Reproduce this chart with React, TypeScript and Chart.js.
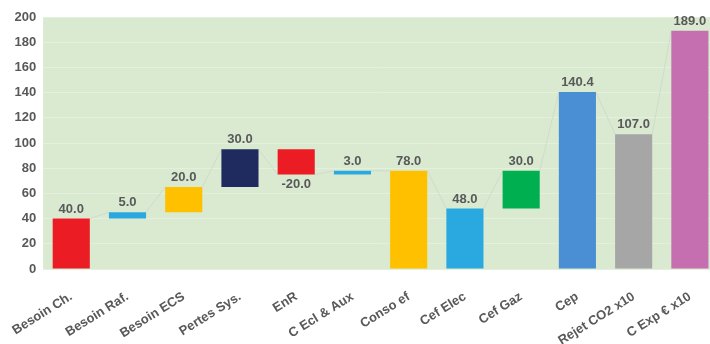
import React, { useEffect, useRef } from "react";
import { Chart, registerables } from "chart.js";

Chart.register(...registerables);

const categories = [
  "Besoin Ch.",
  "Besoin Raf.",
  "Besoin ECS",
  "Pertes Sys.",
  "EnR",
  "C Ecl & Aux",
  "Conso ef",
  "Cef Elec",
  "Cef Gaz",
  "Cep",
  "Rejet CO2 x10",
  "C Exp € x10",
];
const starts = [0, 40, 45, 65, 95, 75, 0, 0, 48, 0, 0, 0];
const values = [40, 5, 20, 30, -20, 3, 78, 48, 30, 140.4, 107, 189];
const colors = [
  "#ec1c24",
  "#2aa9e0",
  "#ffc000",
  "#1f2a5e",
  "#ec1c24",
  "#2aa9e0",
  "#ffc000",
  "#2aa9e0",
  "#00b050",
  "#4a8fd3",
  "#a6a6a6",
  "#c56fb0",
];
const yTicks = [0, 20, 40, 60, 80, 100, 120, 140, 160, 180, 200];

const FONT = "'Liberation Sans', Arial, sans-serif";
const TEXT = "#595959";

const bgPlugin = {
  id: "bgPlugin",
  beforeDraw(chart: any) {
    const { ctx, chartArea } = chart;
    ctx.save();
    ctx.fillStyle = "#d9ead1";
    ctx.fillRect(chartArea.left, chartArea.top, chartArea.right - chartArea.left, chartArea.bottom - chartArea.top);
    ctx.restore();
  },
  beforeDatasetsDraw(chart: any) {
    const { ctx } = chart;
    const meta = chart.getDatasetMeta(0);
    const y = chart.scales.y;
    ctx.save();
    ctx.strokeStyle = "rgba(200,208,200,0.6)";
    ctx.lineWidth = 1;
    for (let i = 0; i < meta.data.length - 1; i++) {
      const a = meta.data[i] as any;
      const b = meta.data[i + 1] as any;
      const ea = starts[i] + values[i];
      const eb = starts[i + 1] + values[i + 1];
      ctx.beginPath();
      ctx.moveTo(a.x + a.width / 2, y.getPixelForValue(ea));
      ctx.lineTo(b.x - b.width / 2, y.getPixelForValue(eb));
      ctx.stroke();
    }
    ctx.restore();
  },
  afterDatasetsDraw(chart: any) {
    const { ctx } = chart;
    const meta = chart.getDatasetMeta(0);
    const y = chart.scales.y;
    ctx.save();
    ctx.font = `bold 13px ${FONT}`;
    ctx.fillStyle = TEXT;
    ctx.textAlign = "center";
    meta.data.forEach((bar: any, i: number) => {
      const s = starts[i];
      const e = s + values[i];
      const label = values[i].toFixed(1);
      if (values[i] >= 0) {
        ctx.textBaseline = "bottom";
        ctx.fillText(label, bar.x, y.getPixelForValue(Math.max(s, e)) - 3);
      } else {
        ctx.textBaseline = "top";
        ctx.fillText(label, bar.x, y.getPixelForValue(Math.min(s, e)) + 3);
      }
    });
    ctx.restore();
  },
};

export default function App() {
  const ref = useRef<HTMLCanvasElement | null>(null);
  useEffect(() => {
    document.documentElement.style.overflow = "hidden";
    document.body.style.margin = "0";
    if (!ref.current) return;
    const chart = new Chart(ref.current, {
      type: "bar",
      data: {
        labels: categories,
        datasets: [
          {
            data: categories.map((_, i) => [starts[i], starts[i] + values[i]]) as any,
            backgroundColor: colors,
            borderWidth: 0,
            barPercentage: 0.66,
            categoryPercentage: 1,
          },
        ],
      },
      options: {
        responsive: false,
        animation: false,
        layout: { padding: { top: 17, right: 0, bottom: 0, left: 0 } },
        plugins: { legend: { display: false }, tooltip: { enabled: false } },
        scales: {
          x: {
            grid: { display: false },
            border: { display: false },
            ticks: {
              color: TEXT,
              font: { family: FONT, size: 13, weight: "bold" },
              minRotation: 32,
              maxRotation: 32,
              autoSkip: false,
              padding: 12,
            },
            afterFit(scale: any) {
              scale.height = 75;
            },
          },
          y: {
            min: 0,
            max: 200,
            afterBuildTicks(scale: any) {
              scale.ticks = yTicks.map((v) => ({ value: v }));
            },
            grid: { color: "#e4efdc", drawTicks: false },
            border: { display: false },
            ticks: {
              color: TEXT,
              font: { family: FONT, size: 13, weight: "bold" },
              padding: 7,
            },
            afterFit(scale: any) {
              scale.width = 40;
            },
          },
        },
      },
      plugins: [bgPlugin],
    });
    return () => chart.destroy();
  }, []);
  return (
    <div style={{ width: 710, height: 344, overflow: "hidden" }}>
      <canvas ref={ref} width={718} height={344} style={{ display: "block" }} />
    </div>
  );
}
